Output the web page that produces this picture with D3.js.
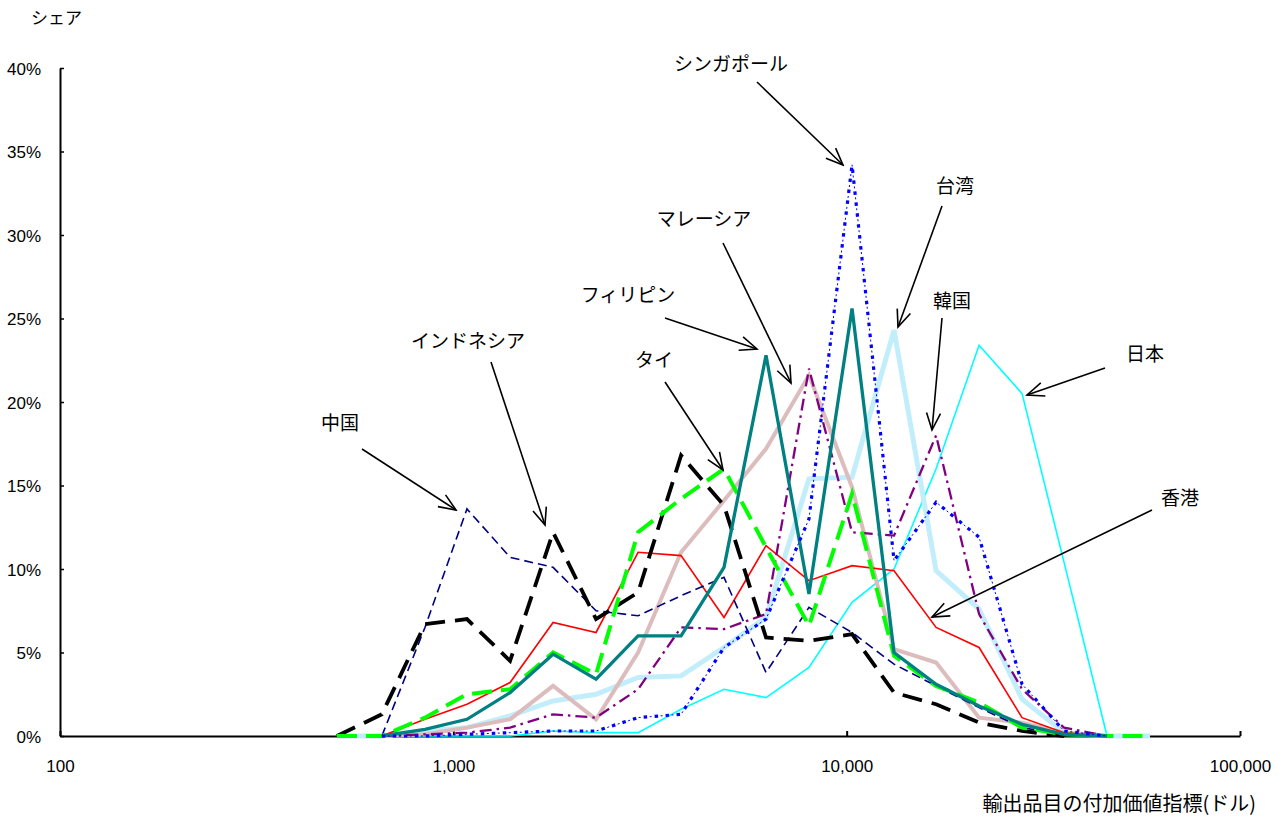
<!DOCTYPE html>
<html>
<head>
<meta charset="utf-8">
<script src="https://cdn.jsdelivr.net/npm/d3@7"></script>
<style>
  html, body { margin: 0; padding: 0; background: #fff; }
  svg { display: block; }
  .tick text { font-family: "Liberation Sans", Arial, sans-serif; font-size: 17px; fill: #000; }
  .jp { font-family: "Noto Sans CJK JP", sans-serif; fill: #000; }
</style>
</head>
<body>
<svg id="chart" width="1284" height="817"></svg>
<script>
// ---- data ----
const binValues = [506, 658, 847, 1083, 1394, 1793, 2306, 2949, 3793, 4877, 6237, 8020, 10320, 13196, 16879, 21710, 27920, 35700, 45920, 59060];
const xTicks = [100, 1000, 10000, 100000];
const yTicks = [0, 5, 10, 15, 20, 25, 30, 35, 40];

const japan      = [null, 0, 0, 0, 0, 0.3, 0.2, 0.2, 1.6, 2.8, 2.3, 4.1, 8.0, 10.0, 16.0, 23.4, 20.5, 10.4, 0, null];
const taiwan     = [0, 0, 0.3, 0.5, 1.2, 2.1, 2.5, 3.5, 3.6, 5.3, 7.1, 15.4, 15.5, 24.3, 9.9, 7.6, 2.2, 0.2, 0, 0];
const malaysia   = [null, 0, 0.1, 0.5, 1.0, 3.0, 1.0, 5.0, 11.0, 14.1, 17.2, 21.6, 14.9, 5.2, 4.4, 1.1, 0.8, 0.2, 0, null];
const hongkong   = [null, 0, 1.0, 1.9, 3.2, 6.8, 6.2, 11.0, 10.8, 7.1, 11.4, 9.3, 10.2, 9.9, 6.5, 5.3, 1.1, 0.2, 0, null];
const korea      = [null, 0, 0.1, 0.2, 0.5, 1.3, 1.1, 2.8, 6.5, 6.4, 7.3, 22.0, 12.2, 12.0, 18.0, 7.3, 2.8, 0.5, 0, null];
const china      = [null, 0, 6.5, 13.6, 10.7, 10.1, 7.5, 7.2, 8.4, 9.5, 3.8, 7.7, 6.2, 4.3, 3.0, 1.7, 0.5, 0.1, 0, null];
const indonesia  = [0, 1.3, 6.7, 7.0, 4.5, 12.2, 7.0, 8.6, 16.8, 13.8, 5.9, 5.7, 6.1, 2.6, 1.9, 0.8, 0.3, 0, null, null];
const thailand   = [0, 0, 1.1, 2.5, 2.8, 5.0, 3.7, 12.2, 14.2, 16.0, 11.3, 6.6, 14.5, 4.8, 3.0, 2.0, 0.5, 0.1, 0, 0];
const philippines= [null, 0, 0.4, 1.0, 2.6, 4.9, 3.4, 6.0, 6.0, 10.1, 22.8, 8.5, 25.6, 5.0, 3.1, 1.8, 0.7, 0.1, 0, null];
const singapore  = [null, 0, 0, 0.1, 0.2, 0.3, 0.3, 1.1, 1.3, 5.3, 7.0, 13.0, 34.2, 10.5, 14.0, 11.9, 3.1, 0.3, 0, null];

// ---- series styling (drawn bottom to top) ----
const series = [
  { name: "日本",       values: japan,       color: "#00ffff", width: 1.6, dash: null },
  { name: "台湾",       values: taiwan,      color: "#c2eefb", width: 5,   dash: null },
  { name: "マレーシア", values: malaysia,    color: "#dcbcbc", width: 4,   dash: null },
  { name: "香港",       values: hongkong,    color: "#ff0000", width: 1.6, dash: null },
  { name: "韓国",       values: korea,       color: "#800080", width: 2.3, dash: "12,5,2.5,5" },
  { name: "中国",       values: china,       color: "#000080", width: 1.6, dash: "9,5" },
  { name: "インドネシア", values: indonesia, color: "#000000", width: 3.8, dash: "20,10" },
  { name: "タイ",       values: thailand,    color: "#00ff00", width: 4,   dash: "20,9" },
  { name: "フィリピン", values: philippines, color: "#008080", width: 3.3, dash: null },
  { name: "シンガポール", values: singapore, color: "#0000ff", width: 3.2, dash: "3.5,7.5", thin: true }
];

// ---- annotations (label position, arrow tail, arrow tip in px) ----
const annotations = [
  { text: "中国",         tx: 340,  ty: 430, x1: 362,  y1: 449, x2: 456, y2: 510 },
  { text: "インドネシア", tx: 468,  ty: 348, x1: 491,  y1: 362, x2: 545, y2: 525 },
  { text: "タイ",         tx: 654,  ty: 367, x1: 665,  y1: 382, x2: 723, y2: 470 },
  { text: "フィリピン",   tx: 628,  ty: 302, x1: 665,  y1: 318, x2: 757, y2: 349 },
  { text: "マレーシア",   tx: 704,  ty: 226, x1: 723,  y1: 243, x2: 791, y2: 383 },
  { text: "シンガポール", tx: 731,  ty: 71,  x1: 757,  y1: 82,  x2: 843, y2: 165 },
  { text: "台湾",         tx: 955,  ty: 193, x1: 942,  y1: 206, x2: 898, y2: 327 },
  { text: "韓国",         tx: 952,  ty: 308, x1: 942,  y1: 318, x2: 932, y2: 430 },
  { text: "日本",         tx: 1145, ty: 361, x1: 1105, y1: 368, x2: 1027, y2: 395 },
  { text: "香港",         tx: 1180, ty: 505, x1: 1152, y1: 510, x2: 932, y2: 617 }
];

// ---- chart ----
const svg = d3.select("#chart");
const x = d3.scaleLog().domain([100, 100000]).range([60, 1240]);
const y = d3.scaleLinear().domain([0, 40]).range([736, 68]);

// axes
const xAxis = d3.axisBottom(x).tickValues(xTicks).tickFormat(d3.format(",")).tickSizeInner(-5).tickSizeOuter(0);
const gx = svg.append("g").attr("transform", "translate(0,736)").call(xAxis);
gx.select(".domain").attr("stroke", "#000").attr("stroke-width", 2);
gx.selectAll(".tick line").attr("stroke", "#000").attr("stroke-width", 2);
gx.selectAll(".tick text").attr("y", 36).attr("dy", null);

const yAxis = d3.axisLeft(y).tickValues(yTicks).tickFormat(d => d + "%").tickSizeInner(-4).tickSizeOuter(0);
const gy = svg.append("g").attr("transform", "translate(60,0)").call(yAxis);
gy.select(".domain").attr("stroke", "#000").attr("stroke-width", 2);
gy.selectAll(".tick line").attr("stroke", "#000").attr("stroke-width", 1.5);
gy.selectAll(".tick text").attr("x", -19).attr("dy", "0.36em");

// lines
const line = d3.line()
  .defined(d => d.v !== null)
  .x(d => x(d.x))
  .y(d => y(d.v));

const gLines = svg.append("g");
series.forEach(s => {
  const pts = binValues.map((b, i) => ({ x: b, v: s.values[i] }));
  if (s.thin) {
    gLines.append("path").datum(pts)
      .attr("d", line).attr("fill", "none")
      .attr("stroke", s.color).attr("stroke-width", 1)
      .attr("stroke-dasharray", "2,9").attr("stroke-dashoffset", -6);
  }
  gLines.append("path").datum(pts)
    .attr("d", line)
    .attr("fill", "none")
    .attr("stroke", s.color)
    .attr("stroke-width", s.width)
    .attr("stroke-linejoin", "miter")
    .attr("stroke-dasharray", s.dash);
});

// labels & arrows
const defs = svg.append("defs");
defs.append("marker")
  .attr("id", "arrow").attr("viewBox", "0 0 20 20")
  .attr("refX", 18).attr("refY", 10)
  .attr("markerWidth", 20).attr("markerHeight", 20)
  .attr("markerUnits", "userSpaceOnUse").attr("orient", "auto")
  .append("path").attr("d", "M1,3 L18,10 L1,17")
  .attr("fill", "none").attr("stroke", "#000").attr("stroke-width", 1.6);

const gAnn = svg.append("g");
annotations.forEach(a => {
  gAnn.append("line")
    .attr("x1", a.x1).attr("y1", a.y1).attr("x2", a.x2).attr("y2", a.y2)
    .attr("stroke", "#000").attr("stroke-width", 1.6)
    .attr("marker-end", "url(#arrow)");
  gAnn.append("text").attr("class", "jp")
    .attr("x", a.tx).attr("y", a.ty)
    .attr("text-anchor", "middle").attr("font-size", 19)
    .text(a.text);
});

// axis titles
svg.append("text").attr("class", "jp").attr("x", 31).attr("y", 24).attr("font-size", 17).text("シェア");
svg.append("text").attr("class", "jp").attr("x", 1256).attr("y", 811).attr("text-anchor", "end").attr("font-size", 20).text("輸出品目の付加価値指標(ドル)");
</script>
</body>
</html>
